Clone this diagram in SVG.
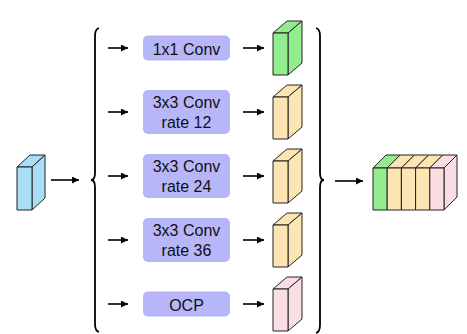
<svg xmlns="http://www.w3.org/2000/svg" width="467" height="334" viewBox="0 0 467 334">
  <defs>
    <marker id="arrow" viewBox="0 0 10 10" refX="10" refY="5" markerWidth="7" markerHeight="7" markerUnits="userSpaceOnUse" orient="auto">
      <path d="M0,0 L10,5 L0,10 Z" fill="#000"/>
    </marker>
  </defs>
  <style>
    .edge { stroke: #000; stroke-width: 1.6; fill: none; marker-end: url(#arrow); }
    .brace { stroke: #000; stroke-width: 1.8; fill: none; }
    .box { fill: #b6b6f9; stroke: none; }
    .lbl { font-family: "Liberation Sans", Arial, sans-serif; font-size: 16px; fill: #111; text-anchor: middle; }
    .cube path { stroke: #222; stroke-width: 1; stroke-linejoin: round; }
    .blue { fill: #a8dff7; }
    .green { fill: #93ec8e; }
    .beige { fill: #fde4b3; }
    .pink { fill: #fbdde4; }
  </style>

  <rect width="467" height="334" fill="#fff"/>

  <!-- input feature map -->
  <g id="input" class="cube">
    <path class="blue" d="M17,167 L30,155 L45,155 L32,167 Z"/>
    <path class="blue" d="M32,167 L45,155 L45,198 L32,210 Z"/>
    <path class="blue" d="M17,167 L32,167 L32,210 L17,210 Z"/>
  </g>

  <!-- grouping braces -->
  <g id="brace-left">
    <path class="brace" d="M99,28 Q95,29 95,36 L95,173 Q95,180 91,180 Q95,180 95,187 L95,324 Q95,331 99,332"/>
  </g>
  <g id="brace-right">
    <path class="brace" d="M316,28 Q320,29 320,36 L320,173 Q320,180 324,180 Q320,180 320,187 L320,325 Q320,332 316,333"/>
  </g>

  <!-- branch operations -->
  <g id="conv1x1">
    <rect class="box" x="143" y="35.5" width="87" height="25" rx="5"/>
    <text class="lbl" x="186.5" y="54.5">1x1 Conv</text>
  </g>
  <g id="conv3x3-r12">
    <rect class="box" x="143" y="90" width="87" height="44" rx="5"/>
    <text class="lbl" x="186.5" y="108">3x3 Conv</text>
    <text class="lbl" x="186.5" y="128">rate 12</text>
  </g>
  <g id="conv3x3-r24">
    <rect class="box" x="143" y="154" width="87" height="44" rx="5"/>
    <text class="lbl" x="186.5" y="172">3x3 Conv</text>
    <text class="lbl" x="186.5" y="192">rate 24</text>
  </g>
  <g id="conv3x3-r36">
    <rect class="box" x="143" y="218" width="87" height="44" rx="5"/>
    <text class="lbl" x="186.5" y="236">3x3 Conv</text>
    <text class="lbl" x="186.5" y="256">rate 36</text>
  </g>
  <g id="ocp">
    <rect class="box" x="143" y="291.5" width="87" height="25" rx="5"/>
    <text class="lbl" x="186.5" y="310.5">OCP</text>
  </g>

  <!-- branch outputs -->
  <g id="out-1x1" class="cube">
    <path class="green" d="M273,33 L287,21 L302,21 L288,33 Z"/>
    <path class="green" d="M288,33 L302,21 L302,63 L288,75 Z"/>
    <path class="green" d="M273,33 L288,33 L288,75 L273,75 Z"/>
  </g>
  <g id="out-r12" class="cube">
    <path class="beige" d="M273,97 L287,85 L302,85 L288,97 Z"/>
    <path class="beige" d="M288,97 L302,85 L302,127 L288,139 Z"/>
    <path class="beige" d="M273,97 L288,97 L288,139 L273,139 Z"/>
  </g>
  <g id="out-r24" class="cube">
    <path class="beige" d="M273,161 L287,149 L302,149 L288,161 Z"/>
    <path class="beige" d="M288,161 L302,149 L302,191 L288,203 Z"/>
    <path class="beige" d="M273,161 L288,161 L288,203 L273,203 Z"/>
  </g>
  <g id="out-r36" class="cube">
    <path class="beige" d="M273,225 L287,213 L302,213 L288,225 Z"/>
    <path class="beige" d="M288,225 L302,213 L302,255 L288,267 Z"/>
    <path class="beige" d="M273,225 L288,225 L288,267 L273,267 Z"/>
  </g>
  <g id="out-ocp" class="cube">
    <path class="pink" d="M273,289 L287,277 L302,277 L288,289 Z"/>
    <path class="pink" d="M288,289 L302,277 L302,319 L288,331 Z"/>
    <path class="pink" d="M273,289 L288,289 L288,331 L273,331 Z"/>
  </g>

  <!-- concatenated result -->
  <g id="concat" class="cube">
    <path class="green" d="M373,168 L386,155 L400.2,155 L387.2,168 Z"/>
    <path class="beige" d="M387.2,168 L400.2,155 L414.4,155 L401.4,168 Z"/>
    <path class="beige" d="M401.4,168 L414.4,155 L428.6,155 L415.6,168 Z"/>
    <path class="beige" d="M415.6,168 L428.6,155 L442.8,155 L429.8,168 Z"/>
    <path class="pink" d="M429.8,168 L442.8,155 L457,155 L444,168 Z"/>
    <path class="pink" d="M444,168 L457,155 L457,197 L444,210 Z"/>
    <path class="green" d="M373,168 L387.2,168 L387.2,210 L373,210 Z"/>
    <path class="beige" d="M387.2,168 L401.4,168 L401.4,210 L387.2,210 Z"/>
    <path class="beige" d="M401.4,168 L415.6,168 L415.6,210 L401.4,210 Z"/>
    <path class="beige" d="M415.6,168 L429.8,168 L429.8,210 L415.6,210 Z"/>
    <path class="pink" d="M429.8,168 L444,168 L444,210 L429.8,210 Z"/>
  </g>

  <!-- connectors -->
  <g id="connectors">
    <line class="edge" x1="51" y1="180" x2="79" y2="180"/>
    <line class="edge" x1="108" y1="48" x2="128" y2="48"/>
    <line class="edge" x1="108" y1="112" x2="128" y2="112"/>
    <line class="edge" x1="108" y1="176" x2="128" y2="176"/>
    <line class="edge" x1="108" y1="240" x2="128" y2="240"/>
    <line class="edge" x1="108" y1="304" x2="128" y2="304"/>
    <line class="edge" x1="243" y1="48" x2="264" y2="48"/>
    <line class="edge" x1="243" y1="112" x2="264" y2="112"/>
    <line class="edge" x1="243" y1="176" x2="264" y2="176"/>
    <line class="edge" x1="243" y1="240" x2="264" y2="240"/>
    <line class="edge" x1="243" y1="304" x2="264" y2="304"/>
    <line class="edge" x1="335" y1="181" x2="363" y2="181"/>
  </g>
</svg>
